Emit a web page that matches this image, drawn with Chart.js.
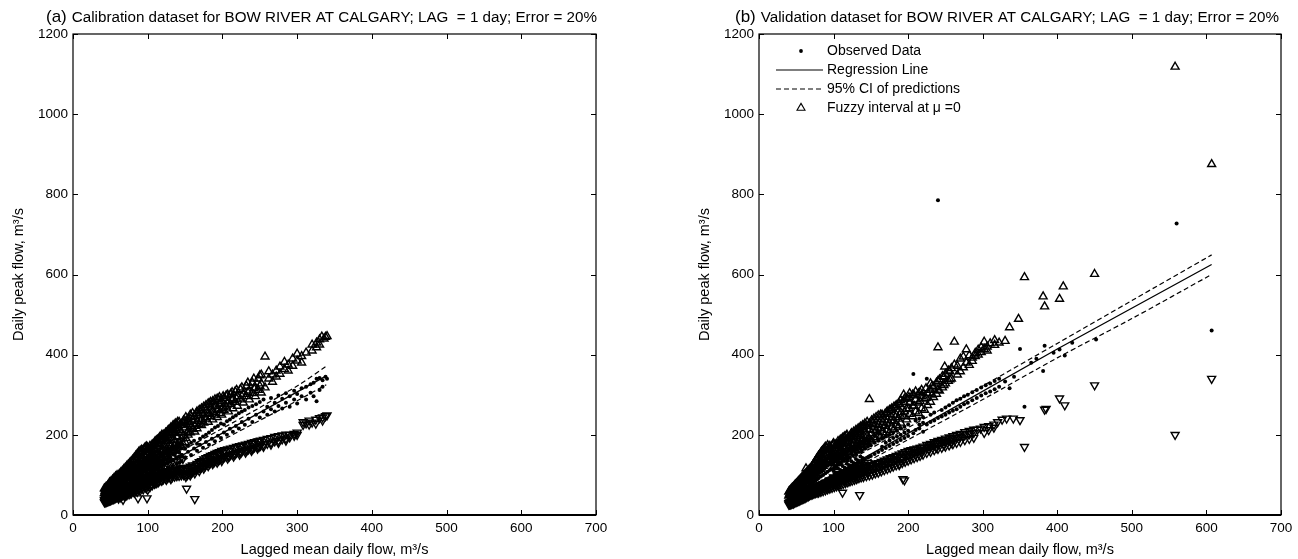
<!DOCTYPE html>
<html>
<head>
<meta charset="utf-8">
<script src="https://cdn.jsdelivr.net/npm/chart.js@4.4.1/dist/chart.umd.min.js"></script>
<style>
  body { margin: 0; background: #fff; }
  #wrap { position: relative; width: 1298px; height: 559px; }
  .panel { position: absolute; top: 0; width: 649px; height: 559px; }
</style>
</head>
<body>
<div id="wrap">
  <div class="panel" style="left:0"><canvas id="cal" width="649" height="559"></canvas></div>
  <div class="panel" style="left:649px"><canvas id="val" width="649" height="559"></canvas></div>
</div>
<script>
// Each row: [lagged mean flow, peak flow, peak flow, ...] for days sharing that mean flow.

// ---- (a) calibration set ----
const calObserved = [
  [42,40,47],[43,44,52],[44,38,49],[45,46,55],[46,42,51],[47,48,58],[48,44,53],[49,50,61],[50,46,56],[51,53,64],
  [52,48,58],[53,55,67],[54,50,61],[55,58,70],[56,53,63],[57,60,73],[58,55,66],[59,63,76],[60,57,69],[62,60,72,80],
  [64,63,76,84],[66,65,79,88],[68,68,82,92],[70,70,85,96],[72,73,88,100],[74,75,91,104],[76,78,94,108],[78,80,97,112],
  [80,83,100,116],[83,86,104,120],[86,89,108,125],[89,92,112,130],[92,95,116,134],[95,98,120,139],[98,101,124,143],
  [101,104,128,147],[104,107,132,151],[107,110,136,155],[110,113,140,158],[114,117,144],[118,121,148],[122,125,152],
  [126,129,157],[130,134,162],[134,138,166],[138,142,170],[142,146,174],[146,150,178],[150,144,165],[154,158,172],
  [158,150,180],[162,166,185],[166,160,178],[170,175,190],[174,168,196],[178,182,200],[182,175,206],[186,190,212],
  [190,184,218],[194,198,222],[198,192,228],[202,206,226],[206,200,234],[210,215,238],[214,208,244],[218,222,248],
  [222,216,254],[226,232,258],[230,225,262],[235,240,268],[240,232,272],[245,250,276],[250,243,282],[255,258,288],
  [260,250,270],[265,264,292],[270,258,280],[275,272,298],[280,266,290],[285,280,304],[290,270,296],[296,288,310],
  [300,278,302],[306,296,316],[312,288,320],[318,305,326],[322,296,330],[326,284,340],[330,312,342],[334,320,336],
  [338,345],[340,340],
  [45,50,60],[49,55,66],[53,58,72],[57,64,78],[61,66,84],[65,72,90],[69,76,96],[73,80,100],[77,86,106],[81,90,112],
  [85,96,118],[89,100,124],[93,104,128],[97,110,134],[101,114,140],[105,118,144],[109,122,150],[115,128,156],
  [121,134,160],[127,140,165],
  [100,118,130],[106,120,138],[112,126,146],[118,134,152],[124,138,158],[130,144,164],[136,150,170],[142,156,176],
  [103,96,112,124],[109,102,116,132],[115,108,122,138],[121,112,128,142],[127,118,132,148],[133,122,138,154],
  [139,128,144,160],[145,134,150,166]
];
const calUpper = [
  [42,54,66],[43,60],[44,57,69],[45,63],[46,58,72],[47,66],[48,61,76],[49,69,81],[50,64],[51,73,84],[52,67],[53,77,88],
  [54,70],[55,81,92],[56,74],[57,85,96],[58,77],[59,89,99],[60,80],[61,93,73],[62,84,102],[63,96],[64,88,106],[65,79],
  [66,100,110],[67,91],[68,84,114],[69,104],[70,95,118],[71,88],[72,108,122],[73,99],[74,92,126],[75,113],[76,103,130],
  [77,96],[78,117,134],[79,107],[80,100,138],[81,121],[82,111,143],[83,104],[84,126,148],[85,115],[86,108,152],[87,131],
  [88,119,157],[89,112],[90,136,160],[92,124,163,115],[94,141,128],[96,167,120,146],[98,133,171],
  [100,124,152,168],[103,138,172,128],[106,158,176,145],[109,133,165,180],[112,150,186,140],[115,172,190,156],
  [118,145,180,196],[121,162,200,188],[124,152,195,205],[127,170,210,160],[130,200,178,214],[133,165,206,218],
  [136,186,222,172],[139,210,194,226],[142,180,212,232],[145,190,225,206],[148,236,198,218],[151,192,228,244],
  [154,210,240,200],[157,226,250,206],[160,214,238,254],[163,222,246,208],[166,234,258,216],[169,226,250,262],
  [172,238,266,224],[175,250,230,270],[178,240,262,274],[181,232,254,278],[184,246,268,282],[187,258,238,284],
  [190,250,272,288],[193,262,244,290],[196,276,254,294],[199,266,284,250],
  [202,262,292],[205,270,298],[208,258,284],[211,276,302],[214,266,290],[217,282,308],[220,272,296],[224,288,314],
  [228,280,302],[232,296,322],[236,288,310],[240,304,330],[244,296,318],[248,312,340],[252,305,328,350],[257,395,318],
  [262,340,358],[267,332,350],[272,360,345],[277,352,370],[283,364,382],[288,375,360],[294,390,372],[300,385,402],
  [306,396,380],[312,405],[320,425,410],[326,430,418],[330,438,425],[333,445],[336,440],[338,444],[340,446],
  [43,50,64],[45,56,70],[47,61,75],[49,64,78],[51,68,80],[53,72,85],[55,69,88],[57,78,90],[59,82,94],[61,78,97],
  [63,86,100],[65,90,104],[67,84,108],[69,94,112],[71,98,116],[73,92,120],[75,102,124],[77,106,128],[79,100,132],
  [81,110,136],[83,114,140],[85,108,145],[87,118,150],[89,122,154],[91,116,158],[93,126,160],[95,130,164],
  [97,124,167],[99,134,170],[101,118,140,162],[104,146,168,124],[107,130,154,174],[110,142,162,184],[113,135,170,188],
  [116,150,178,194],[119,158,186,200],[122,148,174,196],[125,164,184,206],[128,156,192,212],[131,172,200,218],
  [134,162,188,224],[137,180,204,228],[140,170,196,232],
  [153,205,232],[159,220,244],[165,228,254],[171,234,258],[177,244,268],[183,252,276],[189,256,280],[195,264,288],
  [201,270,296],[207,280,300],[213,286,306],[219,290,312],[226,296,318],[234,306,330],[242,316,340],[250,322,348],
  [95,112,150],[98,118,156],[102,122,158],[105,126,164],[108,128,170],[111,134,176],[114,136,180],[117,140,186],
  [120,144,190],[123,148,194],[126,152,200],[129,156,204],[132,158,208],[135,162,212],[138,166,216],[141,170,220],
  [144,174,224],[147,178,230],[150,182,234]
];
const calLower = [
  [42,32,37],[43,35],[44,33,39],[45,36],[46,34,41],[47,38],[48,36,43],[49,40],[50,37,45],[51,42],[52,39,47],[53,44],
  [54,40,49],[55,46],[56,42,51],[57,48],[58,44,53],[59,50],[60,46,55],[61,41],[62,52,57],[63,48],[64,44,59],[65,54],
  [66,50,61],[67,38,56],[68,52,63],[69,47],[70,58,65],[71,54],[72,49,67],[73,60],[74,56,69],[75,52],[76,62,71],[77,58],
  [78,54,73],[79,65],[80,60,75],[82,56,68,78],[84,63,80],[86,58,72,82],[87,42],[88,66,84],[90,61,76,86],[92,70,88],
  [94,64,80,90],[96,73,92],[98,67,84],[99,42],[100,63,77,94],[103,70,86,96],[106,74,90],[109,78,94,86],[112,80,98],
  [115,84,92,100],[118,86,102],[121,89,96,104],[124,91,106],[127,93,99,107],[130,94,108],[133,95,101,109],[136,96,110],
  [139,97,103,111],[142,98,112],[145,99,105,113],[148,100,114],[151,101,95,116],[152,66],[154,103,118],[157,105,99,121],
  [160,108,124],[163,40,111,104],[166,114,128],[169,117,110,132],[172,120,135],[175,123,116,139],[178,126,142],
  [181,129,122,145],[184,131,148],[187,133,127,150],[190,135,153],[193,137,131,155],[196,139,157],[199,141,135,160],
  [203,145,162],[207,148,141,164],[211,150,166],[215,152,146,168],[219,155,170],[223,157,151,172],[227,160,174],
  [231,162,156,176],[235,164,178],[239,166,160,180],[243,169,182],[247,171,166,184],[251,173,186],[255,176,170,188],
  [260,178,190],[265,181,176,192],[270,184,195],[275,186,180,197],[280,189,199],[285,191,186,201],[290,200,194],
  [296,203,198],[300,206,200],[308,225,232],[312,229],[316,236,226],[320,231],[325,228,238],[330,242],[334,236,244],
  [338,247],[340,249],
  [43,32,38],[45,33,40],[47,35,43],[49,36,45],[51,38,47],[53,40,49],[55,41,51],[57,43,53],[59,45,55],[61,46,57],
  [63,50,59],[65,48,61],[67,50,63],[69,52,65],[71,57,67],[73,54,69],[75,59,71],[77,55,73],[79,62,75],[81,59,70],
  [83,65,77],[85,61,73,82],[89,64,79,86],[93,68,83,90],[97,70,86,93],[101,73,88,96],[105,77,92,100],[110,80,96,104],
  [114,82,99,106],[119,86,100,108],[125,88,103,110],[131,90,104,112],
  [153,100,110],[159,106,118],[165,112,124],[171,118,130],[177,122,136],[183,128,140],[189,132,146],[195,136,152],
  [201,142,156],[209,146,160],[217,152,166],[225,156,170],[233,162,174],[241,166,178],[249,170,184],
  [95,80,96],[99,84,100],[103,88,104],[107,90,108],[111,94,112],[115,96,116],[119,100,120],[123,102,122],
  [127,106,126],[131,108,128],[135,110,132],[139,114,134],[143,116,138],[147,118,140]
];
const calRegression = [[44,44],[339,347]];
const calCIUpper = [[44,56],[100,114],[150,165],[200,216],[250,268],[300,322],[339,371]];
const calCILower = [[44,32],[100,89],[150,138],[200,187],[250,236],[300,285],[339,325]];

// ---- (b) validation set ----
const valObserved = [
  [40,34,40],[41,37,44],[42,35,42,48],[43,39,46],[44,36,43,50],[45,40,48],[46,38,45,53],[47,42,50],[48,40,47,56],
  [49,44,52],[50,42,50,59],[51,46,55],[52,44,52,62],[53,48,58],[54,46,55,65],[55,50,60],[56,48,57,68],[57,52,63],
  [58,50,60,70],[59,55,66],[60,52,62,73],[62,55,66,76],[64,57,68,80],[66,60,71,83],[68,62,74,86],[70,64,77,90],
  [72,67,80,93],[74,69,83,96],[76,72,86,100],[78,74,89,103],[80,77,92,106],[83,80,96,111],[86,83,100,115],
  [89,86,104,120],[92,89,108,124],[95,92,112,128],[98,95,115,132],[101,98,118,136],[104,101,122,140],[107,104,126,144],
  [110,107,130,148],[114,111,135,152],[118,115,139,157],[122,119,143,162],[126,123,148,166],[130,127,152,170],
  [134,131,157,175],[138,135,161,180],[142,139,165,184],[146,143,170,188],[150,147,174,192],[155,152,180,198],
  [160,157,185,204],[165,162,190,170],[170,167,196,180],[175,172,200,186],[180,177,206,192],[185,182,210,196],
  [190,187,216,200],[195,192,220,206],[200,197,226,210],[207,352,204],[210,212,236],[215,216,240,226],[220,208,244,230],
  [225,340,226],[230,232,250],[235,236,256],[240,785,242],[245,246,262],[250,250,268],[255,256,274],[260,260,280],
  [265,264,286],[270,270,290],[275,276,296],[280,280,300],[286,286,306],[292,292,312],[298,298,318],[304,304,324],
  [310,308,328],[316,314,334],[322,320,340],[330,333],[336,316],[342,345],[350,414],[356,270],[365,380],[372,390],
  [381,359],[383,422],[395,405],[403,413],[410,398],[420,430],[452,438],[560,727],[607,460],
  [43,42,52],[45,44,55],[47,46,58],[49,48,61],[51,50,64],[53,52,67],[55,54,70],[57,56,73],[59,58,76],[61,60,79],
  [63,62,82],[65,64,86],[67,66,89],[69,68,92],[71,70,95],[73,72,98],[75,74,102],[77,76,106],[79,78,110],[81,80,113],
  [85,84,118],[90,90,124],[96,96,130],[102,100,138],[108,106,146],[116,114,154],[124,122,162],[132,130,170],
  [140,138,178],[148,146,186],
  [100,110,125],[106,116,132],[112,122,140],[118,128,148],[124,134,156],[130,140,162],[136,146,168],
  [103,94,106],[109,100,112],[115,104,118],[121,110,124],[127,116,130],[133,122,136],[139,126,142]
];
const valUpper = [
  [40,48,58],[41,53],[42,50,62],[43,57],[44,53,66],[45,60],[46,56,70],[47,64],[48,59,74],[49,67],[50,62,78],[51,71],
  [52,65,82],[53,74],[54,68,86],[55,78],[56,71,90],[57,82],[58,74,94],[59,86],[60,77,98],[61,90],[62,80,102],
  [63,94,116],[64,84,106],[65,97],[66,87,110],[67,101],[68,90,114],[69,105],[70,93,118],[72,97,110,124],
  [74,100,115,130],[76,104,120,136],[78,108,125,142],[80,111,130,148],[82,115,135,152],[84,118,140,158],
  [86,122,145,162],[88,126,150,166],[89,170],[90,129,155],[92,133,160,174],[94,137,164],[96,140,168,150],[98,144,172],
  [100,148,179,120],[103,152,176,130],[106,156,184,138],[109,162,188,145],[112,150,178,192],[115,168,196,140],
  [118,158,184,200],[121,174,195,132],[124,164,190,204],[127,180,208,155],[130,170,196,212],[133,186,216,162],
  [136,176,202,220],[139,192,224,170],[142,182,208,228],[145,198,232,178],[148,188,214,289],[151,204,236,185],
  [154,194,220,240],[157,210,244,190],[160,200,226,248],[163,216,250,196],[166,206,232,245],[169,222,252,200],
  [172,212,238,258],[175,228,262,206],[178,218,244,266],[181,234,270,214],[184,224,250,274],[187,240,278,220],
  [190,230,256,286],[194,246,282,300],[198,238,264,290],[202,252,280,304],[206,246,272,300],[210,258,288,308],
  [214,254,280,303],[218,266,296,312],[222,262,290],[226,274,304],[230,282,312,328],[234,294,320],[238,302,330],
  [240,418],[242,310,338],[246,318,346],[249,370],[250,328,352],[254,334,360],[258,340,366],[262,432,375],[266,350,372],
  [270,358,390],[274,395,368],[278,413,380],[282,374,398],[286,392,384],[290,404,396],[294,400,412],[298,418,406],
  [302,432,414],[306,420,410],[310,428],[316,436,424],[322,430],[330,434],[336,468],[348,489],[356,593],[381,545],
  [383,520],[403,539],[408,570],[450,601],[558,1118],[607,875],
  [41,50,60],[43,54,64],[45,57,68],[47,60,72],[49,63,76],[51,66,80],[53,69,84],[55,72,88],[57,76,92],[59,80,96],
  [61,84,100],[63,88,104],[65,92,108],[67,95,112],[69,98,116],[71,102,120],[73,105,126],[75,110,132],[77,114,138],
  [79,118,144],[81,122,150],[83,127,155],[85,131,160],[87,136,164],[91,140,168],[95,146,172],[99,152,176],
  [102,140,166],[105,148,174],[108,154,182],[111,160,188],[114,166,194],[117,172,198],[120,168,192],[123,178,200],
  [126,172,196],[129,186,206],[132,178,210],[135,190,214],[138,184,218],[141,196,222],
  [153,212,230],[159,218,238],[165,224,250],[171,230,256],[177,236,262],[183,244,270],[189,250,276],[195,258,290],
  [201,266,294],[208,272,298],[216,284,306],[224,292,316],[232,300,322],[240,312,334],[248,324,344],[256,338,358],
  [100,130,160],[104,136,166],[108,140,172],[112,146,178],[116,150,184],[120,156,190],[124,160,196],[128,166,202],
  [132,170,206],[136,174,212],[140,180,218],[144,184,222],[148,190,228]
];
const valLower = [
  [40,26,30],[41,28],[42,27,32],[43,30],[44,28,34],[45,31],[46,29,36],[47,33],[48,31,38],[49,35],[50,33,40],[51,37],
  [52,34,42],[53,39],[54,36,44],[55,41],[56,38,46],[57,43],[58,40,48],[59,45],[60,41,50],[62,43,48,53],[64,45,50,56],
  [66,47,53,58],[68,49,55,61],[70,51,57,63],[72,52,59,66],[74,54,61,68],[76,55,62,70],[78,56,63,71],[80,56,64,72],
  [83,58,66,75],[86,60,69,77],[89,62,71,80],[92,64,74,82],[95,66,76,85],[98,68,78,88],[101,70,80,90],[104,72,83,92],
  [107,74,85,95],[110,76,88,97],[112,56],[113,78,90,100],[116,80,92,102],[119,82,95,104],[122,84,97,107],
  [125,86,99,109],[128,88,101,111],[131,90,103,113],[134,92,105,115],[135,50],[137,94,107,117],[140,95,109,119],
  [144,97,111,121],[148,99,113,123],[152,101,115,125],[156,104,118,128],[160,106,120,130],[164,109,123,133],
  [168,112,126,136],[172,115,129,139],[176,118,132,142],[180,121,135,145],[184,124,138,148],[188,127,125,151],
  [192,130,142,154],[193,90],[195,87],[196,133,146,157],[200,136,149,160],[204,139,152,162],[208,142,155,164],
  [212,145,158,166],[216,148,160,168],[220,151,163,171],[225,155,167,175],[230,158,170,178],[235,162,174,182],
  [240,165,177,185],[245,168,180,188],[250,171,183,191],[255,174,186,194],[260,177,189,197],[265,180,192,200],
  [270,183,195,203],[276,187,199,207],[282,190,202,210],[288,193,205,213],[293,213],[297,216],[302,205,220],
  [308,222,212],[315,226,218],[320,232],[326,238],[332,241],[341,241],[350,237],[356,170],[383,263],[385,265],
  [403,291],[410,274],[450,324],[558,200],[607,340],
  [41,27,32],[43,28,33],[45,30,35],[47,31,37],[49,33,39],[51,35,41],[53,36,43],[55,38,45],[57,40,47],[59,42,49],
  [61,43,51],[63,46,54],[65,48,56],[67,50,58],[69,52,60],[71,53,62],[73,55,64],[75,57,66],[77,58,67],[79,60,70],
  [82,62,73],[85,64,75],[88,66,78],[91,68,80],[94,70,83],[97,72,85],[100,74,87],[103,76,89],[106,78,92],[109,80,94],
  [115,84,98],[121,88,102],[127,92,106],[133,96,110],[139,100,114],
  [146,104,118],[154,108,122],[162,114,128],[170,120,134],[178,126,140],[186,132,146],[194,138,152],[202,144,158],
  [210,150,163],[218,156,168],[228,162,174],[238,168,180],[248,174,186],[258,180,192],
  [100,78,94],[105,82,98],[110,86,102],[115,88,106],[120,92,110],[125,96,114],[130,98,118],[135,102,122],
  [140,106,126],[146,108,130]
];
const valRegression = [[42,40],[150,152],[250,256],[400,414],[607,625]];
const valCIUpper = [[42,55],[100,115],[200,218],[300,322],[400,428],[500,535],[607,649]];
const valCILower = [[42,27],[100,88],[200,188],[300,288],[400,392],[500,490],[607,600]];

const xTicks = [0, 100, 200, 300, 400, 500, 600, 700];
const yTicks = [0, 200, 400, 600, 800, 1000, 1200];

const FONT = "'Liberation Sans', Arial, Helvetica, sans-serif";
const expand = rows => rows.flatMap(([x, ...ys]) => ys.map(y => ({ x, y })));
const pts = arr => arr.map(([x, y]) => ({ x, y }));

// MATLAB-style box with inward ticks on all four sides
const boxPlugin = {
  id: 'box',
  afterDatasetsDraw(chart) {
    const { ctx, chartArea: a, scales } = chart;
    ctx.save();
    ctx.strokeStyle = '#000';
    ctx.lineWidth = 1.2;
    ctx.strokeRect(a.left, a.top, a.right - a.left, a.bottom - a.top);
    ctx.lineWidth = 2;
    ctx.beginPath();
    ctx.moveTo(a.left, a.bottom);
    ctx.lineTo(a.right, a.bottom);
    ctx.stroke();
    ctx.lineWidth = 1;
    ctx.beginPath();
    xTicks.forEach(v => {
      const px = Math.round(scales.x.getPixelForValue(v)) + 0.5;
      ctx.moveTo(px, a.bottom); ctx.lineTo(px, a.bottom - 5);
      ctx.moveTo(px, a.top); ctx.lineTo(px, a.top + 5);
    });
    yTicks.forEach(v => {
      const py = Math.round(scales.y.getPixelForValue(v)) + 0.5;
      ctx.moveTo(a.left, py); ctx.lineTo(a.left + 5, py);
      ctx.moveTo(a.right, py); ctx.lineTo(a.right - 5, py);
    });
    ctx.stroke();
    ctx.restore();
  }
};

// panel heading: larger "(a)" tag, then the description
const headingPlugin = {
  id: 'heading',
  afterDraw(chart, args, opts) {
    const { ctx } = chart;
    ctx.save();
    ctx.fillStyle = '#000';
    ctx.textBaseline = 'alphabetic';
    ctx.font = `17px ${FONT}`;
    ctx.fillText(opts.tag, opts.x, 22);
    const w = ctx.measureText(opts.tag).width + 5;
    ctx.font = `15.2px ${FONT}`;
    ctx.fillText(opts.text, opts.x + w, 22);
    ctx.restore();
  }
};

// legend drawn inside the plot, top-left
const insideLegend = {
  id: 'insideLegend',
  afterDraw(chart, args, opts) {
    if (!opts.show) return;
    const { ctx } = chart;
    const x0 = 127, x1 = 174, xm = 152, xt = 178;
    const rows = [51, 70, 89, 108];
    ctx.save();
    ctx.strokeStyle = '#000';
    ctx.fillStyle = '#000';
    ctx.beginPath(); ctx.arc(xm, rows[0], 1.9, 0, Math.PI * 2); ctx.fill();
    ctx.lineWidth = 1.2;
    ctx.beginPath(); ctx.moveTo(x0, rows[1]); ctx.lineTo(x1, rows[1]); ctx.stroke();
    ctx.setLineDash([5, 3]);
    ctx.beginPath(); ctx.moveTo(x0, rows[2]); ctx.lineTo(x1, rows[2]); ctx.stroke();
    ctx.setLineDash([]);
    ctx.lineWidth = 1.1;
    ctx.beginPath();
    ctx.moveTo(xm, rows[3] - 4.6); ctx.lineTo(xm + 4, rows[3] + 2.3); ctx.lineTo(xm - 4, rows[3] + 2.3); ctx.closePath();
    ctx.stroke();
    ctx.font = `14px ${FONT}`;
    ctx.textBaseline = 'middle';
    ['Observed Data', 'Regression Line', '95% CI of predictions', 'Fuzzy interval at μ =0']
      .forEach((t, i) => ctx.fillText(t, xt, rows[i]));
    ctx.restore();
  }
};

function makePanel(id, d, head, padLeft, padRight, legend) {
  return new Chart(document.getElementById(id), {
    type: 'scatter',
    data: {
      datasets: [
        { label: 'Regression Line', type: 'line', data: pts(d.reg), borderColor: '#000', borderWidth: 1.3,
          pointRadius: 0, fill: false, tension: 0 },
        { label: '95% CI upper', type: 'line', data: pts(d.ciU), borderColor: '#000', borderWidth: 1.2,
          borderDash: [5, 3], pointRadius: 0, fill: false, tension: 0.3 },
        { label: '95% CI lower', type: 'line', data: pts(d.ciL), borderColor: '#000', borderWidth: 1.2,
          borderDash: [5, 3], pointRadius: 0, fill: false, tension: 0.3 },
        { label: 'Observed Data', data: expand(d.obs), pointStyle: 'circle', pointRadius: 2,
          backgroundColor: '#000', borderWidth: 0 },
        { label: 'Fuzzy upper', data: expand(d.up), pointStyle: 'triangle', pointRadius: 4.6,
          backgroundColor: 'rgba(0,0,0,0)', borderColor: '#000', borderWidth: 1.4 },
        { label: 'Fuzzy lower', data: expand(d.low), pointStyle: 'triangle', rotation: 180, pointRadius: 4.6,
          backgroundColor: 'rgba(0,0,0,0)', borderColor: '#000', borderWidth: 1.4 }
      ]
    },
    options: {
      responsive: false,
      animation: false,
      events: [],
      layout: { padding: { left: padLeft, right: padRight, top: 34, bottom: 0 } },
      scales: {
        x: {
          type: 'linear', min: 0, max: 700,
          grid: { display: false, drawTicks: false },
          border: { display: false },
          ticks: { stepSize: 100, padding: 5, color: '#000', font: { family: FONT, size: 13.5 },
                   callback: v => String(v) },
          title: { display: true, text: 'Lagged mean daily flow, m³/s', color: '#000', padding: 0,
                   font: { family: FONT, size: 14.5 } },
          afterFit(s) { s.height = 44; }
        },
        y: {
          type: 'linear', min: 0, max: 1200,
          grid: { display: false, drawTicks: false },
          border: { display: false },
          ticks: { stepSize: 200, padding: 5, color: '#000', font: { family: FONT, size: 13.5 },
                   callback: v => String(v) },
          title: { display: true, text: 'Daily peak flow, m³/s', color: '#000', padding: 10,
                   font: { family: FONT, size: 14.5 } },
          afterFit(s) { s.width = 73; }
        }
      },
      plugins: {
        legend: { display: false },
        tooltip: { enabled: false },
        heading: head,
        insideLegend: { show: legend }
      }
    },
    plugins: [boxPlugin, headingPlugin, insideLegend]
  });
}

makePanel('cal',
  { obs: calObserved, up: calUpper, low: calLower, reg: calRegression, ciU: calCIUpper, ciL: calCILower },
  { tag: '(a)', text: 'Calibration dataset for BOW RIVER AT CALGARY; LAG  = 1 day; Error = 20%', x: 46 },
  0, 53, false);

makePanel('val',
  { obs: valObserved, up: valUpper, low: valLower, reg: valRegression, ciU: valCIUpper, ciL: valCILower },
  { tag: '(b)', text: 'Validation dataset for BOW RIVER AT CALGARY; LAG  = 1 day; Error = 20%', x: 86 },
  37, 17, true);
</script>
</body>
</html>
